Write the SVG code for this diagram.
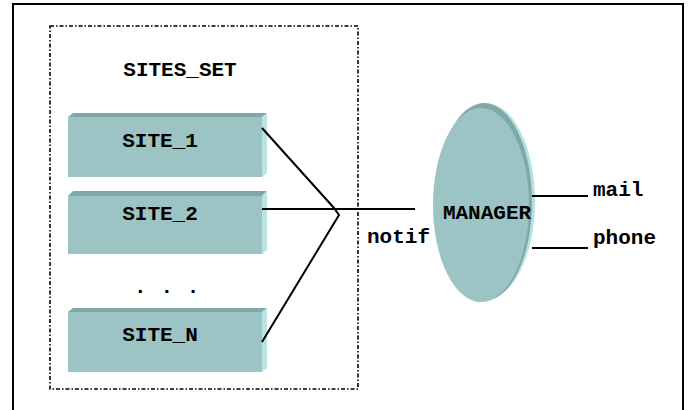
<svg xmlns="http://www.w3.org/2000/svg" width="691" height="410" viewBox="0 0 691 410">
  <style>
    .t { font-family: "Liberation Mono", "Courier New", monospace; font-weight: bold; font-size: 21px; fill: #000; }
    .front { fill: #9cc4c4; }
    .top { fill: #80a8a8; }
    .side { fill: #b8e4e4; }
    .conn { stroke: #000; stroke-width: 2; fill: none; }
  </style>
  <rect x="0" y="0" width="691" height="410" fill="#fff"/>
  <rect x="13" y="4" width="670" height="430" fill="none" stroke="#000" stroke-width="2"/>
  <g id="sites_set">
    <rect x="50" y="26" width="308" height="363" fill="none" stroke="#000" stroke-width="1.6" stroke-dasharray="4 2 1.5 2"/>
    <text class="t" x="180" y="76" text-anchor="middle">SITES_SET</text>
  </g>
  <g id="site_1">
    <polygon class="top" points="68,117 73,113 267,113 262,117"/>
    <polygon class="side" points="262,117 267,113 267,173 262,177"/>
    <rect class="front" x="68" y="117" width="194" height="60"/>
    <text class="t" x="160" y="147" text-anchor="middle">SITE_1</text>
  </g>
  <g id="site_2">
    <polygon class="top" points="68,196 73,191 267,191 262,196"/>
    <polygon class="side" points="262,196 267,191 267,250 262,254"/>
    <rect class="front" x="68" y="196" width="194" height="58"/>
    <text class="t" x="160" y="220" text-anchor="middle">SITE_2</text>
  </g>
  <text id="ellipsis" class="t" x="167" y="293" text-anchor="middle" letter-spacing="0.6">. . .</text>
  <g id="site_n">
    <polygon class="top" points="68,312 73,308 267,308 262,312"/>
    <polygon class="side" points="262,312 267,308 267,368 262,372"/>
    <rect class="front" x="68" y="312" width="194" height="60"/>
    <text class="t" x="160" y="341" text-anchor="middle">SITE_N</text>
  </g>
  <g id="manager">
    <ellipse cx="486" cy="201" rx="49" ry="98" fill="#b4e2e2"/>
    <ellipse cx="484" cy="202" rx="48" ry="99" fill="#80a8a8"/>
    <ellipse cx="481" cy="205" rx="48" ry="97" class="front"/>
    <text class="t" x="487" y="219" text-anchor="middle">MANAGER</text>
  </g>
  <g id="connectors">
    <path class="conn" d="M262,128 L334,208 L339,215 L262,342"/>
    <path class="conn" d="M262,209 H415"/>
    <path class="conn" d="M532,196 H588"/>
    <path class="conn" d="M532,248 H588"/>
  </g>
  <g id="labels">
    <text class="t" x="367" y="243">notif</text>
    <text class="t" x="593" y="196">mail</text>
    <text class="t" x="593" y="244">phone</text>
  </g>
</svg>
